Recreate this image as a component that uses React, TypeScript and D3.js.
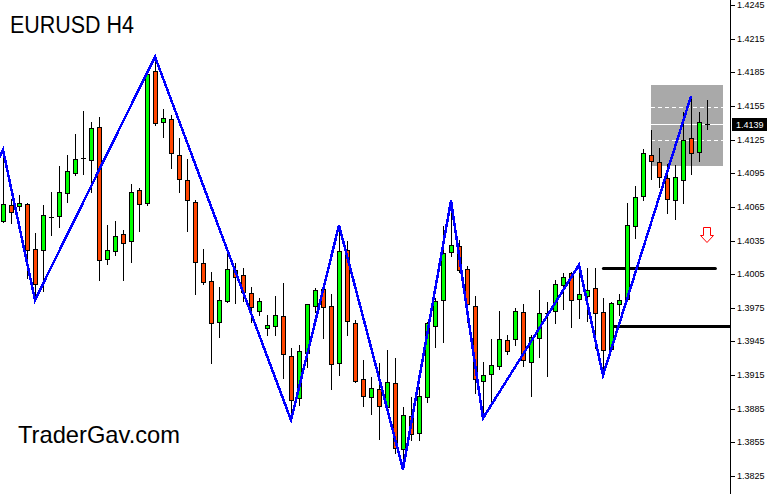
import React from "react";
import * as d3 from "d3";

const W = 768;
const H = 494;

const symbolTitle = "EURUSD H4";
const watermark = "TraderGav.com";

const opens = [
  1.40521, 1.40664, 1.40655, 1.40673, 1.40272, 1.40263, 1.40564, 1.40566, 1.40771, 1.40949,
  1.41083, 1.41065, 1.41359, 1.40182, 1.40254, 1.40405, 1.40343, 1.40798, 1.40682, 1.41859,
  1.41404, 1.41431, 1.4111, 1.40887, 1.40691, 1.40147, 1.39986, 1.39621, 1.39808, 1.40084,
  1.4004, 1.39879, 1.39719, 1.39567, 1.39585, 1.39674, 1.39317, 1.38943, 1.39344, 1.39763,
  1.39915, 1.39763, 1.39255, 1.40263, 1.39612, 1.39112, 1.38952, 1.39023, 1.38863, 1.39077,
  1.38488, 1.38782, 1.38631, 1.38952, 1.39585, 1.39817, 1.40245, 1.40298, 1.40093, 1.39763,
  1.39095, 1.39157, 1.39228, 1.3946, 1.39469, 1.3971, 1.39264, 1.39478, 1.39706, 1.39719,
  1.39951, 1.40058, 1.39826, 1.39852, 1.39924, 1.3971, 1.3938, 1.39781, 1.39826, 1.40477,
  1.40744, 1.4111, 1.41047, 1.40905, 1.40709, 1.40887, 1.41261, 1.41137, 1.4139,
];
const highs = [
  1.41157, 1.4072, 1.40756, 1.40684, 1.40417, 1.40667, 1.40783, 1.41017, 1.4111, 1.41297,
  1.41505, 1.41404, 1.41449, 1.40486, 1.40521, 1.40441, 1.40851, 1.40816, 1.41841, 1.41989,
  1.4152, 1.41466, 1.41261, 1.41074, 1.40711, 1.40274, 1.40066, 1.39935, 1.4028, 1.40147,
  1.40102, 1.39933, 1.39835, 1.39683, 1.39852, 1.39968, 1.39389, 1.39418, 1.39784, 1.39924,
  1.39924, 1.3987, 1.40486, 1.40343, 1.39639, 1.39284, 1.3913, 1.39255, 1.39374, 1.393,
  1.38863, 1.38952, 1.39046, 1.39621, 1.39835, 1.40479, 1.40705, 1.40352, 1.4012, 1.39852,
  1.39264, 1.39469, 1.39719, 1.39505, 1.39745, 1.39781, 1.39505, 1.39906, 1.39799, 1.39995,
  1.40058, 1.40066, 1.40133, 1.40102, 1.40102, 1.39835, 1.39802, 1.3987, 1.40682, 1.40833,
  1.41163, 1.41333, 1.41172, 1.4103, 1.41021, 1.41493, 1.41636, 1.41493, 1.416,
];
const lows = [
  1.40511, 1.40509, 1.40622, 1.40016, 1.39819, 1.399, 1.40399, 1.40473, 1.40691, 1.40934,
  1.4094, 1.4078, 1.39995, 1.40138, 1.40218, 1.39995, 1.40156, 1.40432, 1.40671, 1.4138,
  1.41276, 1.40994, 1.4078, 1.40432, 1.3987, 1.39962, 1.39255, 1.39492, 1.39802, 1.3979,
  1.39808, 1.39621, 1.39683, 1.39505, 1.39505, 1.39121, 1.38749, 1.3888, 1.39219, 1.39713,
  1.39478, 1.39023, 1.39148, 1.3951, 1.39088, 1.38872, 1.388, 1.38577, 1.38856, 1.38458,
  1.3831, 1.38574, 1.38574, 1.38907, 1.39403, 1.39448, 1.40209, 1.40066, 1.39626, 1.38988,
  1.38765, 1.38907, 1.39202, 1.39338, 1.39416, 1.39228, 1.38961, 1.39309, 1.39139, 1.39612,
  1.39737, 1.39583, 1.39656, 1.3963, 1.39389, 1.39148, 1.39374, 1.39683, 1.39819, 1.4037,
  1.40709, 1.40896, 1.40824, 1.40593, 1.40539, 1.40682, 1.4094, 1.41056, 1.41342,
];
const closes = [
  1.40673, 1.40601, 1.40682, 1.40263, 1.39959, 1.40575, 1.40564, 1.4078, 1.40967, 1.41074,
  1.41083, 1.41351, 1.40173, 1.40263, 1.40387, 1.40325, 1.4078, 1.40673, 1.41832, 1.41395,
  1.4144, 1.41128, 1.40896, 1.40709, 1.40156, 1.39977, 1.39612, 1.39817, 1.40093, 1.40022,
  1.39888, 1.39754, 1.39808, 1.39594, 1.39683, 1.39335, 1.38925, 1.39362, 1.39781, 1.39906,
  1.39754, 1.39246, 1.40254, 1.3963, 1.39095, 1.38961, 1.39032, 1.38872, 1.39086, 1.38497,
  1.38791, 1.38622, 1.38961, 1.39612, 1.39808, 1.40236, 1.40307, 1.40084, 1.39781, 1.39112,
  1.39148, 1.39237, 1.39469, 1.39362, 1.39719, 1.39282, 1.39487, 1.39701, 1.39706, 1.39959,
  1.40022, 1.39817, 1.3987, 1.39906, 1.39701, 1.39371, 1.3979, 1.39817, 1.40486, 1.40735,
  1.41128, 1.41056, 1.40914, 1.40717, 1.40914, 1.41244, 1.41128, 1.41404, 1.4139,
];

// zigzag pivots: candle index and which extreme it uses; the first one is off the left edge
const zigzagLead = { i: -2, price: 1.4085 };
const zigzagPivots: { i: number; t: "H" | "L" }[] = [
  { i: 0, t: "H" }, { i: 4, t: "L" }, { i: 19, t: "H" }, { i: 36, t: "L" },
  { i: 42, t: "H" }, { i: 50, t: "L" }, { i: 56, t: "H" }, { i: 60, t: "L" },
  { i: 72, t: "H" }, { i: 75, t: "L" }, { i: 86, t: "H" },
];

const tickLabels = [
  "1.4245", "1.4215", "1.4185", "1.4155", "1.4125", "1.4095", "1.4065", "1.4035",
  "1.4005", "1.3975", "1.3945", "1.3915", "1.3885", "1.3855", "1.3825",
];
const currentPrice = 1.4139;
const boxRange = { from: 81, to: 90, top: 1.41737, bottom: 1.41014 };
const boxDashed = [1.4154, 1.41246];
const levels = [
  { price: 1.40105, from: 75.05, to: 89.05 },
  { price: 1.3959, from: 76.2, to: 92 },
];
const arrowMark = { i: 88, price: 1.4047 };

export default function App() {
  const x = d3.scaleLinear().domain([0, 88]).range([3, 707]);
  const y = d3.scaleLinear().domain([1.3825, 1.4245]).range([476, 5]);
  const axisX = 730;

  const zz: [number, number][] = [
    [x(zigzagLead.i), y(zigzagLead.price)],
    ...zigzagPivots.map((p) => [x(p.i), y(p.t === "H" ? highs[p.i] : lows[p.i])] as [number, number]),
  ];
  const zzPath = d3.line()(zz) || "";

  const bx0 = Math.round(x(boxRange.from));
  const bx1 = Math.round(x(boxRange.to));
  const by0 = Math.round(y(boxRange.top));
  const by1 = Math.round(y(boxRange.bottom));

  const ax = Math.round(x(arrowMark.i));
  const ay = Math.round(y(arrowMark.price));
  const arrowPath = `M${ax - 3.5},${ay + 0.5} h7 v8 h3 l-6.5,7 l-6.5,-7 h3 z`;

  const cpY = Math.round(y(currentPrice));

  return (
    <svg
      width={W}
      height={H}
      style={{ position: "absolute", left: 0, top: 0, background: "#fff" }}
      fontFamily="'Liberation Sans', Arial, sans-serif"
    >
      <defs>
        <clipPath id="plot">
          <rect x={0} y={0} width={axisX} height={H} />
        </clipPath>
      </defs>
      <rect x={0} y={0} width={W} height={H} fill="#fff" />
      <g clipPath="url(#plot)">
        <rect x={bx0} y={by0} width={bx1 - bx0} height={by1 - by0} fill="#A9A9A9" />
        {boxDashed.map((p, k) => (
          <line
            key={k}
            x1={bx0}
            x2={bx1}
            y1={Math.round(y(p)) + 0.5}
            y2={Math.round(y(p)) + 0.5}
            stroke="#fff"
            strokeDasharray="4,3"
            shapeRendering="crispEdges"
          />
        ))}
        <line x1={bx0} x2={bx1} y1={cpY + 0.5} y2={cpY + 0.5} stroke="#fff" shapeRendering="crispEdges" />
        {levels.map((l, k) => (
          <line
            key={k}
            x1={x(l.from)}
            x2={x(l.to)}
            y1={Math.round(y(l.price)) + 0.5}
            y2={Math.round(y(l.price)) + 0.5}
            stroke="#000"
            strokeWidth={3}
            strokeLinecap="round"
          />
        ))}
        {opens.map((o, i) => {
          const c = closes[i];
          const px = Math.round(x(i));
          const yh = Math.round(y(highs[i]));
          const yl = Math.round(y(lows[i]));
          const top = Math.round(y(Math.max(o, c)));
          const bot = Math.round(y(Math.min(o, c)));
          const up = c >= o;
          return (
            <g key={i} shapeRendering="crispEdges">
              <line x1={px + 0.5} x2={px + 0.5} y1={yh} y2={yl + 1} stroke="#000" />
              {bot - top < 1 ? (
                <line x1={px - 2} x2={px + 3} y1={top + 0.5} y2={top + 0.5} stroke="#000" />
              ) : (
                <rect
                  x={px - 1.5}
                  y={top + 0.5}
                  width={4}
                  height={bot - top}
                  fill={up ? "#00FF00" : "#FF4500"}
                  stroke="#000"
                />
              )}
            </g>
          );
        })}
        <path d={zzPath} fill="none" stroke="#0000FF" strokeWidth={2.5} shapeRendering="crispEdges" />
        <path d={arrowPath} fill="#fff" stroke="#FF0000" strokeWidth={1} />
      </g>
      <line x1={axisX + 0.5} x2={axisX + 0.5} y1={0} y2={H} stroke="#000" shapeRendering="crispEdges" />
      {tickLabels.map((t) => {
        const ty = Math.round(y(+t));
        return (
          <g key={t}>
            <line x1={axisX + 1} x2={axisX + 5} y1={ty + 0.5} y2={ty + 0.5} stroke="#000" shapeRendering="crispEdges" />
            <text x={axisX + 7} y={ty} dominantBaseline="central" fontSize={9} fill="#000">
              {t}
            </text>
          </g>
        );
      })}
      <rect x={axisX + 2} y={cpY - 6} width={35} height={13} fill="#000" />
      <text x={axisX + 6} y={cpY + 0.5} dominantBaseline="central" fontSize={9} fill="#fff">
        {currentPrice.toFixed(4)}
      </text>
      <text x={10} y={33} fontSize={23} fill="#000" textLength={124} lengthAdjust="spacingAndGlyphs">
        {symbolTitle}
      </text>
      <text x={18} y={443} fontSize={24} fill="#000" textLength={162} lengthAdjust="spacingAndGlyphs">
        {watermark}
      </text>
    </svg>
  );
}
